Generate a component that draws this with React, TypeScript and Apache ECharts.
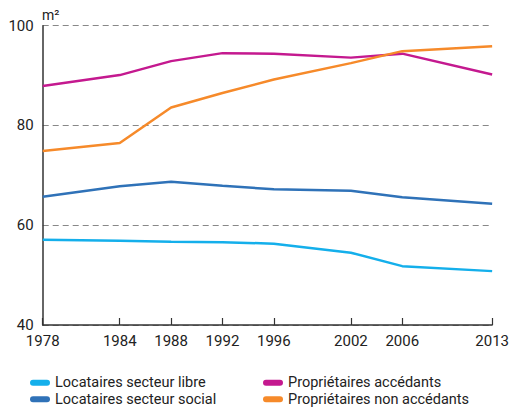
import React, { useEffect, useRef } from "react";
import * as echarts from "echarts";

const years = [1978, 1984, 1988, 1992, 1996, 2002, 2006, 2013];
const locLibre = [57.1, 56.9, 56.7, 56.6, 56.3, 54.5, 51.8, 50.8];
const locSocial = [65.7, 67.8, 68.7, 67.9, 67.2, 66.9, 65.6, 64.3];
const propAccedants = [87.9, 90.1, 92.9, 94.5, 94.4, 93.6, 94.4, 90.2];
const propNonAccedants = [74.9, 76.5, 83.6, 86.5, 89.2, 92.5, 94.9, 95.9];
const yTicks = [40, 60, 80, 100];

const names = [
  "Locataires secteur libre",
  "Locataires secteur social",
  "Propriétaires accédants",
  "Propriétaires non accédants",
];
const colors = ["#14afeb", "#2f72b8", "#c4198f", "#f68a2a"];
const values = [locLibre, locSocial, propAccedants, propNonAccedants];

const FONT = "Roboto, 'Noto Sans', sans-serif";
const capsule = "path://M3,0 H17 A3,3 0 0 1 17,6 H3 A3,3 0 0 1 3,0 Z";

export default function App() {
  const ref = useRef<HTMLDivElement>(null);
  useEffect(() => {
    if (!ref.current) return;
    const chart = echarts.init(ref.current, null, { renderer: "svg" });
    const legendCommon = {
      orient: "vertical" as const,
      itemWidth: 20,
      itemHeight: 6,
      itemGap: 0,
      icon: capsule,
      textStyle: { fontFamily: FONT, fontSize: 14.5, color: "#222", lineHeight: 16.5 },
      padding: 0,
      selectedMode: false,
    };
    chart.setOption({
      animation: false,
      textStyle: { fontFamily: FONT },
      grid: { left: 42.7, right: 17, top: 25.7, bottom: 85, containLabel: false },
      legend: [
        { ...legendCommon, left: 30, top: 374.5, data: [names[0], names[1]] },
        { ...legendCommon, left: 263, top: 374.5, data: [names[2], names[3]] },
      ],
      graphic: [
        {
          type: "text",
          left: 42,
          top: 8,
          style: { text: "m²", font: `14px ${FONT}`, fill: "#222" },
        },
      ],
      xAxis: {
        type: "value",
        min: 1978,
        max: 2013,
        axisLine: { show: true, lineStyle: { color: "#333", width: 1.5 } },
        axisTick: { show: true, inside: true, length: 7, customValues: years, lineStyle: { color: "#333", width: 1.2 } },
        axisLabel: {
          customValues: years,
          formatter: (v: number) => String(v),
          fontSize: 15,
          color: "#222",
          margin: 8,
          fontFamily: FONT,
        },
        splitLine: { show: false },
      },
      yAxis: {
        type: "value",
        min: 40,
        max: 100,
        interval: 20,
        axisLine: { show: true, lineStyle: { color: "#333", width: 1.5 } },
        axisTick: { show: false },
        axisLabel: {
          customValues: yTicks,
          fontSize: 15,
          color: "#222",
          margin: 9,
          fontFamily: FONT,
        },
        splitLine: { show: true, lineStyle: { color: "#888", width: 1.2, type: [6, 4] } },
      },
      series: values.map((vals, i) => ({
        name: names[i],
        type: "line",
        data: years.map((y, j) => [y, vals[j]]),
        symbol: "none",
        lineStyle: { color: colors[i], width: 2.5 },
        itemStyle: { color: colors[i] },
      })),
    });
    return () => chart.dispose();
  }, []);
  return (
    <div
      ref={ref}
      style={{ position: "fixed", left: 0, top: 0, width: 512, height: 410, background: "#fff" }}
    />
  );
}
